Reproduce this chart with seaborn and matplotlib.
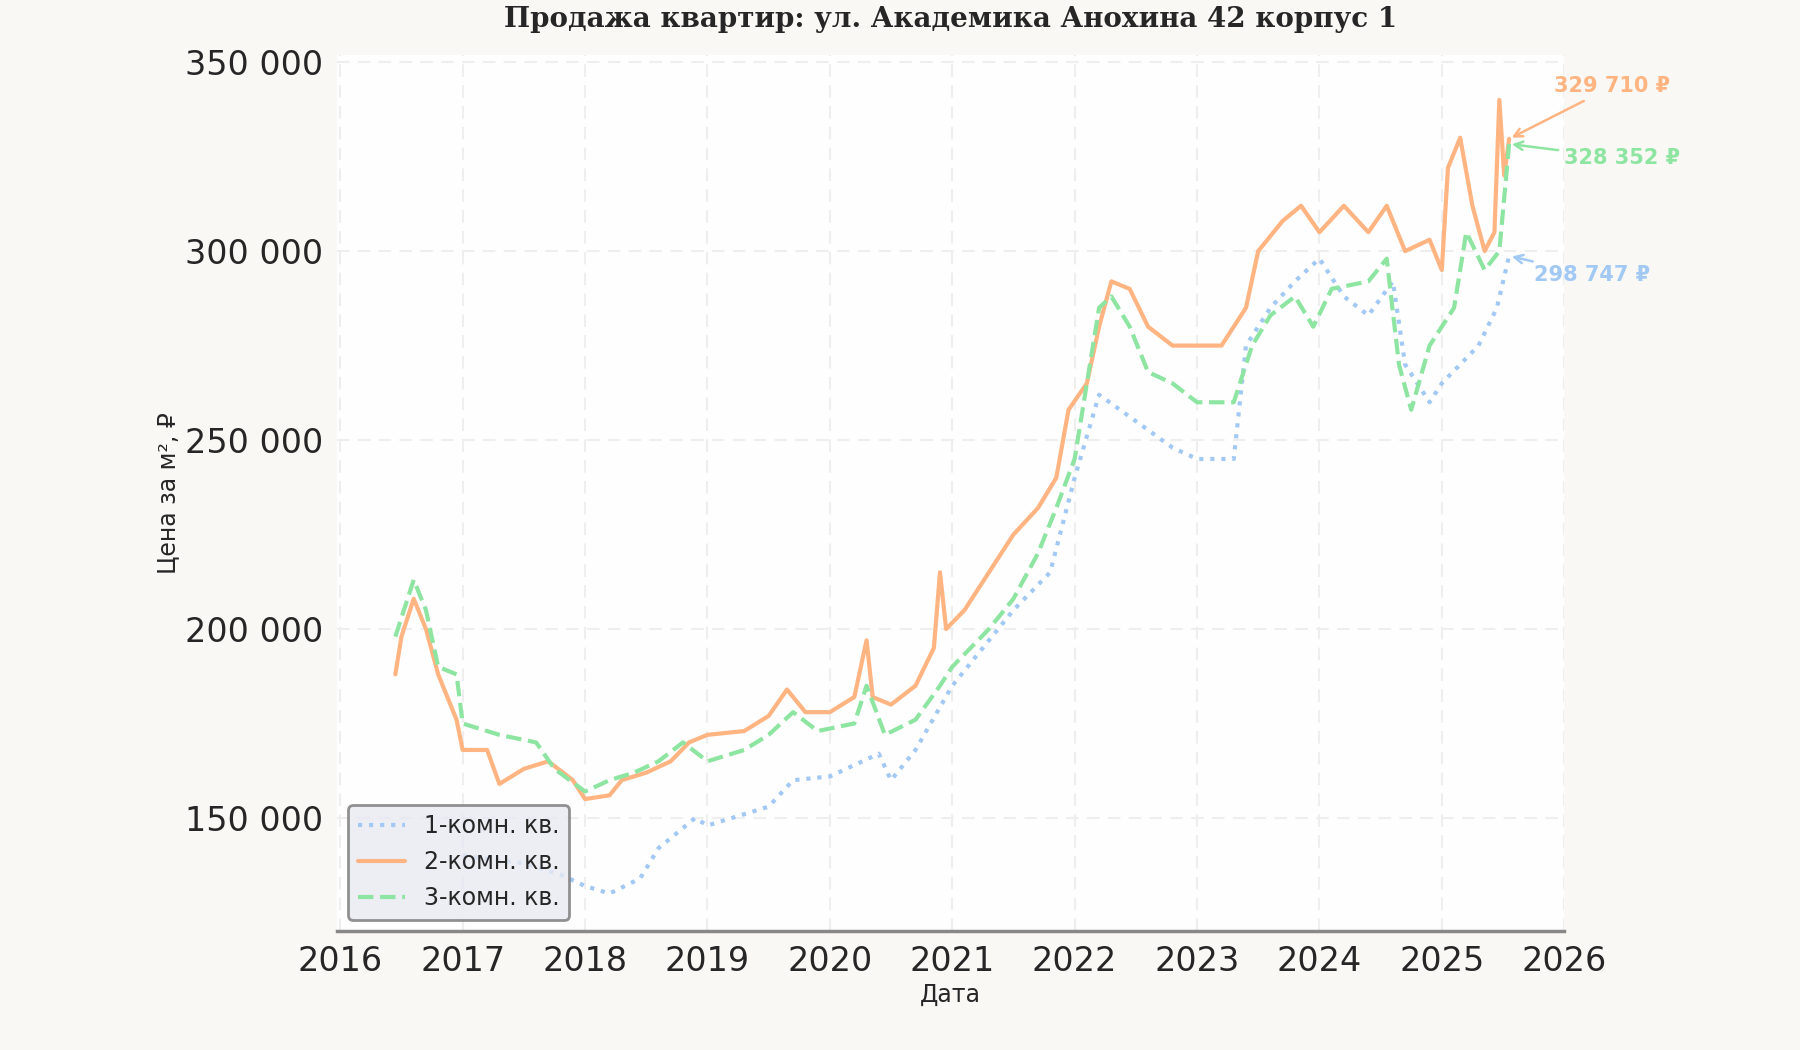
import matplotlib
matplotlib.use("Agg")
import matplotlib.pyplot as plt
import seaborn as sns
import pandas as pd
from matplotlib.ticker import FuncFormatter

t1 = [2017.0,2017.5,2017.8,2018.0,2018.2,2018.45,2018.6,2018.9,2019.0,2019.5,2019.7,2020.0,2020.4,2020.5,2020.7,2021.0,2021.5,2021.8,2022.0,2022.2,2022.5,2022.8,2023.0,2023.3,2023.4,2023.6,2023.8,2024.0,2024.2,2024.4,2024.6,2024.7,2024.9,2025.0,2025.3,2025.45,2025.55]
v1 = [140000,138000,135000,132000,130000,134000,142000,150000,148000,153000,160000,161000,167000,160000,168000,185000,205000,215000,240000,262000,255000,248000,245000,245000,275000,285000,292000,298000,288000,283000,292000,270000,260000,265000,275000,285000,298747]
t2 = [2016.45,2016.5,2016.6,2016.7,2016.8,2016.95,2017.0,2017.2,2017.3,2017.5,2017.7,2017.9,2018.0,2018.2,2018.3,2018.5,2018.7,2018.85,2019.0,2019.3,2019.5,2019.65,2019.8,2020.0,2020.2,2020.3,2020.35,2020.5,2020.7,2020.85,2020.9,2020.95,2021.1,2021.3,2021.5,2021.7,2021.85,2021.95,2022.1,2022.2,2022.3,2022.45,2022.6,2022.8,2023.0,2023.2,2023.4,2023.5,2023.7,2023.85,2024.0,2024.2,2024.4,2024.55,2024.7,2024.9,2025.0,2025.05,2025.15,2025.25,2025.35,2025.43,2025.47,2025.51,2025.55]
v2 = [188000,198000,208000,200000,188000,176000,168000,168000,159000,163000,165000,160000,155000,156000,160000,162000,165000,170000,172000,173000,177000,184000,178000,178000,182000,197000,182000,180000,185000,195000,215000,200000,205000,215000,225000,232000,240000,258000,265000,280000,292000,290000,280000,275000,275000,275000,285000,300000,308000,312000,305000,312000,305000,312000,300000,303000,295000,322000,330000,312000,300000,305000,340000,320000,329710]
t3 = [2016.45,2016.6,2016.7,2016.8,2016.95,2017.0,2017.3,2017.6,2017.75,2018.0,2018.2,2018.4,2018.6,2018.8,2019.0,2019.3,2019.5,2019.7,2019.9,2020.2,2020.3,2020.45,2020.7,2020.9,2021.0,2021.3,2021.5,2021.7,2021.85,2022.0,2022.2,2022.3,2022.45,2022.6,2022.8,2023.0,2023.3,2023.45,2023.6,2023.8,2023.95,2024.1,2024.4,2024.55,2024.65,2024.75,2024.9,2025.1,2025.2,2025.35,2025.47,2025.55]
v3 = [198000,213000,205000,190000,188000,175000,172000,170000,163000,157000,160000,162000,165000,170000,165000,168000,172000,178000,173000,175000,185000,172000,176000,185000,190000,200000,208000,220000,232000,245000,285000,288000,280000,268000,265000,260000,260000,275000,283000,288000,280000,290000,292000,298000,270000,258000,275000,285000,305000,295000,300000,328352]
names = ["1-комн. кв.", "2-комн. кв.", "3-комн. кв."]

sns.set_theme(style="whitegrid")
plt.rcParams['font.family'] = ['DejaVu Sans']
pal = sns.color_palette("pastel")
cols = [pal[0], pal[1], pal[2]]
styles = [":", "-", "--"]

fig = plt.figure(figsize=(18, 10.5), dpi=100, facecolor="#f9f8f4")
ax = fig.add_axes([0.187, 0.113, 0.682, 0.835])
ax.set_facecolor("#fefefe")
for t, v, n, c, ls in zip([t1, t2, t3], [v1, v2, v3], names, cols, styles):
    df = pd.DataFrame({"x": t, "y": v})
    sns.lineplot(data=df, x="x", y="y", ax=ax, color=c, linestyle=ls, linewidth=3, label=n)

ax.annotate("329 710 ₽", xy=(t2[-1], v2[-1]), xytext=(2025.92, 342000), color=cols[1], fontsize=15, fontweight="bold",
            arrowprops=dict(arrowstyle="->", color=cols[1], lw=1.8))
ax.annotate("328 352 ₽", xy=(t3[-1], v3[-1]), xytext=(2026.0, 323000), color=cols[2], fontsize=15, fontweight="bold",
            arrowprops=dict(arrowstyle="->", color=cols[2], lw=1.8))
ax.annotate("298 747 ₽", xy=(t1[-1], v1[-1]), xytext=(2025.75, 292000), color=cols[0], fontsize=15, fontweight="bold",
            arrowprops=dict(arrowstyle="->", color=cols[0], lw=1.8))

ax.set_xlim(2015.97, 2026.0)
ax.set_ylim(120000, 352000)
ax.set_xticks(range(2016, 2027))
ax.yaxis.set_major_formatter(FuncFormatter(lambda v, p: f"{int(v):,}".replace(",", " ")))
ax.tick_params(labelsize=24)
ax.grid(True, linestyle=(0, (6, 4)), color="#eeeeee", linewidth=1.5)
for s in ["top", "right", "left"]:
    ax.spines[s].set_visible(False)
ax.spines["bottom"].set_color("#888888")
ax.spines["bottom"].set_linewidth(2.5)
ax.set_xlabel("Дата", fontsize=17)
ax.set_ylabel("Цена за м², ₽", fontsize=17)
ax.set_title("Продажа квартир: ул. Академика Анохина 42 корпус 1", fontsize=20, fontweight="bold",
             family="DejaVu Serif", pad=20)
leg = ax.legend(loc="lower left", fontsize=17, frameon=True, facecolor="#e8eaf2", edgecolor="#777777")
leg.get_frame().set_linewidth(2)
fig.savefig("out.png", facecolor=fig.get_facecolor())
